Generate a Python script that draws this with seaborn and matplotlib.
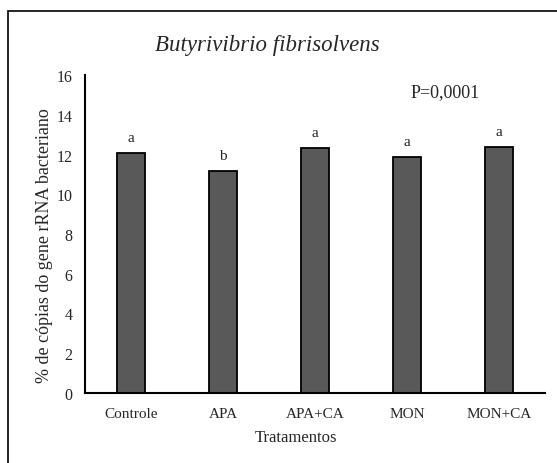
import matplotlib
matplotlib.use("Agg")
import matplotlib.pyplot as plt
import seaborn as sns
import pandas as pd
from matplotlib.patches import Rectangle

categories = ["Controle", "APA", "APA+CA", "MON", "MON+CA"]
values = [12.08, 11.17, 12.33, 11.86, 12.36]
letters = ["a", "b", "a", "a", "a"]
yticks = [0, 2, 4, 6, 8, 10, 12, 14, 16]

sns.set_theme(style="white")
plt.rcParams["font.family"] = ["Liberation Serif", "DejaVu Serif"]

W, H = 557, 464
fig = plt.figure(figsize=(W / 100, H / 100), dpi=100)
ax = fig.add_axes([85 / W, 1 - 394 / H, (545 - 85) / W, (394 - 76) / H])

df = pd.DataFrame({"cat": categories, "val": values})
sns.barplot(data=df, x="cat", y="val", ax=ax, color="#595959", width=0.315,
            edgecolor="black", linewidth=1.3, saturation=1)

for i, (v, l) in enumerate(zip(values, letters)):
    ax.text(i, v + 0.45, l, ha="center", va="bottom", fontsize=11, color="#222222")

ax.set_ylim(0, 16)
ax.set_xlim(-0.5, 4.5)
ax.set_yticks(yticks)
ax.set_yticklabels([str(t) for t in yticks], fontsize=11.5)
ax.tick_params(axis="x", labelsize=11, length=0, pad=10)
ax.tick_params(axis="y", length=0, pad=9)
for s in ["top", "right"]:
    ax.spines[s].set_visible(False)
for s in ["left", "bottom"]:
    ax.spines[s].set_color("black")
    ax.spines[s].set_linewidth(1.5)
ax.set_xlabel("Tratamentos", fontsize=12, va="center", ha="center")
ax.xaxis.set_label_coords((296 - 85) / 460, (394 - 438) / 318)
ax.set_ylabel("% de cópias do gene rRNA bacteriano", fontsize=13, va="center", ha="center")
ax.yaxis.set_label_coords((45 - 85) / 460, (394 - 246) / 318)

ax.text((480 - 85) / 460, (394 - 93) / 318, "P=0,0001", transform=ax.transAxes,
        ha="right", va="center", fontsize=13)

fig.text(267 / W, 1 - 45 / H, "Butyrivibrio fibrisolvens", ha="center", va="center",
         fontsize=16.5, style="italic")

fig.patches.append(Rectangle((8 / W, -0.1), 1.2, 1 - 12 / H + 0.1, transform=fig.transFigure,
                             fill=False, edgecolor="black", linewidth=1.2))

fig.savefig("out.png", dpi=100)
